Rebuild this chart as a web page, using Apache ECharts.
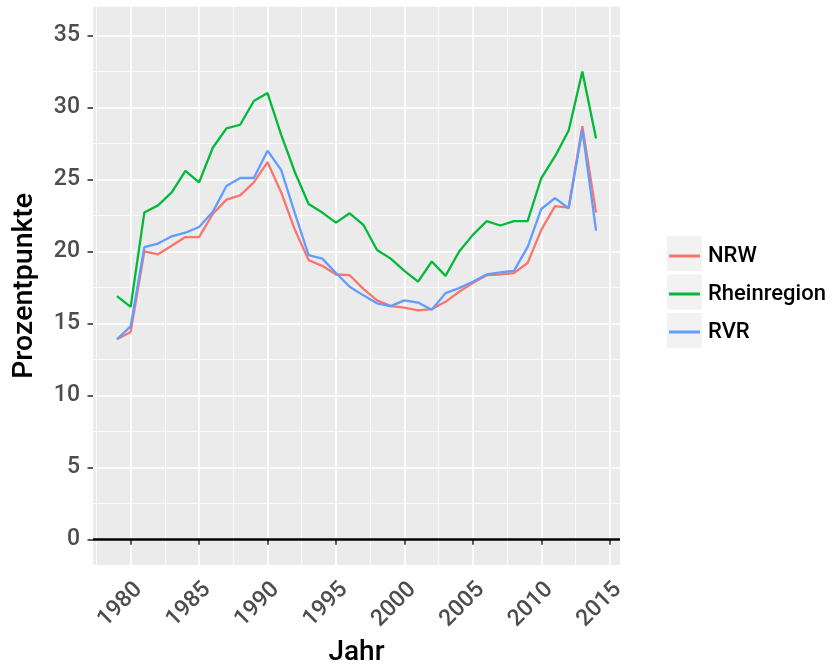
<!DOCTYPE html>
<html>
<head>
<meta charset="utf-8">
<script src="https://cdn.jsdelivr.net/npm/echarts@6/dist/echarts.min.js"></script>
<style>
html,body{margin:0;padding:0;background:#fff;}
#chart{width:835px;height:668px;}
</style>
</head>
<body>
<div id="chart"></div>
<script>
var years = [1979,1980,1981,1982,1983,1984,1985,1986,1987,1988,1989,1990,1991,1992,1993,1994,1995,1996,1997,1998,1999,2000,2001,2002,2003,2004,2005,2006,2007,2008,2009,2010,2011,2012,2013,2014];
var nrw = [13.9,14.4,20.0,19.8,20.4,21.0,21.0,22.6,23.6,23.9,24.8,26.2,24.1,21.5,19.4,19.0,18.4,18.35,17.4,16.6,16.2,16.1,15.9,16.0,16.5,17.2,17.8,18.35,18.4,18.5,19.2,21.5,23.15,23.05,28.7,22.7];
var rhein = [16.9,16.15,22.7,23.2,24.1,25.6,24.8,27.2,28.55,28.8,30.45,31.0,28.1,25.5,23.3,22.7,22.0,22.65,21.85,20.1,19.5,18.65,17.9,19.3,18.3,20.0,21.15,22.1,21.8,22.1,22.1,25.1,26.6,28.4,32.5,27.85];
var rvr = [13.9,14.8,20.3,20.55,21.05,21.3,21.7,22.75,24.55,25.1,25.1,27.0,25.65,22.65,19.75,19.5,18.5,17.55,16.95,16.4,16.2,16.6,16.45,15.95,17.1,17.45,17.9,18.4,18.55,18.65,20.3,22.95,23.7,23.0,28.45,21.45];
var xTicks = [1980,1985,1990,1995,2000,2005,2010,2015];
var yTicks = [0,5,10,15,20,25,30,35];
var seriesNames = ['NRW','Rheinregion','RVR'];
var seriesColors = ['#F8766D','#00BA38','#619CFF'];

function pairs(vals){ return years.map(function(y,i){ return [y, vals[i]]; }); }
var seriesData = [nrw, rhein, rvr];

var chart = echarts.init(document.getElementById('chart'), null, {renderer:'canvas'});
var FONT = 'Roboto';

var series = seriesNames.map(function(name, k){
  var s = {
    name: name,
    type: 'line',
    data: pairs(seriesData[k]),
    showSymbol: false,
    symbol: 'none',
    lineStyle: {color: seriesColors[k], width: 2.3},
    itemStyle: {color: seriesColors[k]},
    z: 3,
    silent: true,
    animation: false
  };
  if (k === 0) {
    s.markLine = {
      silent: true,
      symbol: ['none','none'],
      label: {show:false},
      lineStyle: {color:'#000', width:2.6, type:'solid'},
      data: [{yAxis: 0}],
      animation: false,
      z: 2
    };
  }
  return s;
});

var option = {
  backgroundColor: '#ffffff',
  animation: false,
  textStyle: {fontFamily: FONT},
  grid: {left: 93, right: 215, top: 6.7, bottom: 103, show: true, backgroundColor: '#EBEBEB', borderWidth: 0,
    containLabel: false, outerBoundsMode: 'none'},
  xAxis: {
    type: 'value',
    min: 1977.25, max: 2015.75,
    splitNumber: 8,
    name: 'Jahr',
    nameLocation: 'middle',
    nameGap: 74,
    nameTextStyle: {color:'#000', fontSize: 28, fontWeight: 500, fontFamily: FONT},
    axisLine: {show:false},
    axisTick: {show:true, length:5.5, lineStyle:{color:'#333333', width:1.6}, customValues: xTicks},
    axisLabel: {color:'#4D4D4D', fontSize: 23, fontWeight: 500, fontFamily: FONT, rotate: 45, margin: 13,
      verticalAlign: 'top', customValues: xTicks,
      formatter: function(v){ return String(v); }},
    splitLine: {show:true, lineStyle:{color:'#ffffff', width:1.7}},
    minorTick: {show:false, splitNumber:2},
    minorSplitLine: {show:true, lineStyle:{color:'#ffffff', width:0.8}}
  },
  yAxis: {
    type: 'value',
    min: -1.78, max: 37.0,
    splitNumber: 8,
    name: 'Prozentpunkte',
    nameLocation: 'middle',
    nameGap: 54,
    nameTextStyle: {color:'#000', fontSize: 28.5, fontWeight: 500, fontFamily: FONT},
    axisLine: {show:false},
    axisTick: {show:true, length:5.5, lineStyle:{color:'#333333', width:1.6}, customValues: yTicks},
    axisLabel: {color:'#4D4D4D', fontSize: 23, fontWeight: 500, fontFamily: FONT, margin: 13, customValues: yTicks},
    splitLine: {show:true, lineStyle:{color:'#ffffff', width:1.7}},
    minorTick: {show:false, splitNumber:2},
    minorSplitLine: {show:true, lineStyle:{color:'#ffffff', width:0.8}}
  },
  legend: {
    orient: 'vertical',
    left: 669, top: 245,
    padding: 0,
    itemWidth: 31, itemHeight: 3,
    itemGap: 16,
    icon: 'rect',
    data: seriesNames,
    textStyle: {color:'#000', fontSize: 22, fontWeight: 500, fontFamily: FONT, padding:[0,0,0,3]},
    selectedMode: false
  },
  graphic: [
    {type:'rect', left:667, top:236, shape:{width:35, height:35}, style:{fill:'#F2F2F2'}, z:-1, silent:true},
    {type:'rect', left:667, top:274.5, shape:{width:35, height:35}, style:{fill:'#F2F2F2'}, z:-1, silent:true},
    {type:'rect', left:667, top:313, shape:{width:35, height:35}, style:{fill:'#F2F2F2'}, z:-1, silent:true}
  ],
  series: series
};
chart.setOption(option);
</script>
</body>
</html>
